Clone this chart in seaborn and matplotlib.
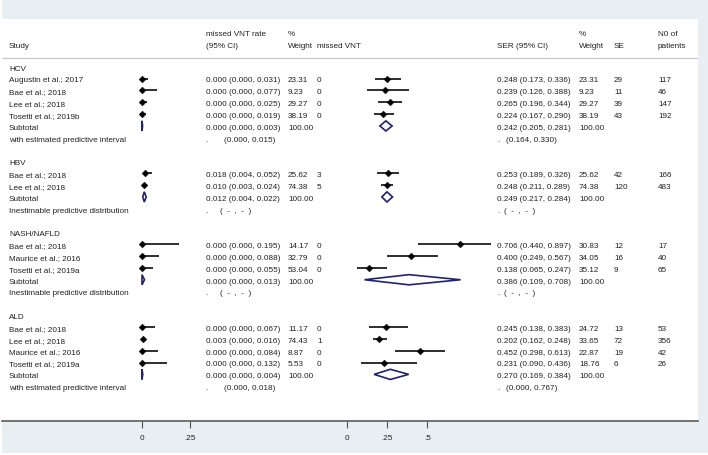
import numpy as np
import pandas as pd
import matplotlib
matplotlib.use("Agg")
import matplotlib.pyplot as plt
import seaborn as sns
from matplotlib.patches import Polygon, Rectangle

# ---------------- data ----------------
groups = ["HCV", "HBV", "NASH/NAFLD", "ALD"]
group_sizes = [4, 2, 3, 4]
pred_labels = ["with estimated predictive interval", "Inestimable predictive distribution",
               "Inestimable predictive distribution", "with estimated predictive interval"]

studies = ["Augustin et al.; 2017", "Bae et al.; 2018", "Lee et al.; 2018", "Tosetti et al.; 2019b",
           "Bae et al.; 2018", "Lee et al.; 2018",
           "Bae et al.; 2018", "Maurice et al.; 2016", "Tosetti et al.; 2019a",
           "Bae et al.; 2018", "Lee et al.; 2018", "Maurice et al.; 2016", "Tosetti et al.; 2019a"]

vnt_rate = [0.000, 0.000, 0.000, 0.000, 0.018, 0.010, 0.000, 0.000, 0.000, 0.000, 0.003, 0.000, 0.000]
vnt_lo = [0.000, 0.000, 0.000, 0.000, 0.004, 0.003, 0.000, 0.000, 0.000, 0.000, 0.000, 0.000, 0.000]
vnt_hi = [0.031, 0.077, 0.025, 0.019, 0.052, 0.024, 0.195, 0.088, 0.055, 0.067, 0.016, 0.084, 0.132]
vnt_weight = [23.31, 9.23, 29.27, 38.19, 25.62, 74.38, 14.17, 32.79, 53.04, 11.17, 74.43, 8.87, 5.53]
missed_vnt = [0, 0, 0, 0, 3, 5, 0, 0, 0, 0, 1, 0, 0]

ser = [0.248, 0.239, 0.265, 0.224, 0.253, 0.248, 0.706, 0.400, 0.138, 0.245, 0.202, 0.452, 0.231]
ser_lo = [0.173, 0.126, 0.196, 0.167, 0.189, 0.211, 0.440, 0.249, 0.065, 0.138, 0.162, 0.298, 0.090]
ser_hi = [0.336, 0.388, 0.344, 0.290, 0.326, 0.289, 0.897, 0.567, 0.247, 0.383, 0.248, 0.613, 0.436]
ser_weight = [23.31, 9.23, 29.27, 38.19, 25.62, 74.38, 30.83, 34.05, 35.12, 24.72, 33.65, 22.87, 18.76]
se_count = [29, 11, 39, 43, 42, 120, 12, 16, 9, 13, 72, 19, 6]
n_patients = [117, 46, 147, 192, 166, 483, 17, 40, 65, 53, 356, 42, 26]

sub_vnt = [0.000, 0.012, 0.000, 0.000]
sub_vnt_lo = [0.000, 0.004, 0.000, 0.000]
sub_vnt_hi = [0.003, 0.022, 0.013, 0.004]
sub_ser = [0.242, 0.249, 0.386, 0.270]
sub_ser_lo = [0.205, 0.217, 0.109, 0.169]
sub_ser_hi = [0.281, 0.284, 0.708, 0.384]
pred_vnt = [(0.000, 0.015), None, None, (0.000, 0.018)]
pred_ser = [(0.164, 0.330), None, None, (0.000, 0.767)]

left_ticks = [0, 0.25]
left_tick_labels = ["0", ".25"]
right_ticks = [0, 0.25, 0.5]
right_tick_labels = ["0", ".25", ".5"]

# ---------------- style ----------------
sns.set_style("white")
plt.rcParams["font.family"] = ["Liberation Sans", "DejaVu Sans"]
FS = 5.9
TXT = "#222222"
NAVY = "#22226e"
BG = "#e8eff2"
TOFF = 0.11  # text baseline correction (rows)

W, H = 708, 456
fig = plt.figure(figsize=(W / 100, H / 100), dpi=100)
fig.patch.set_facecolor("white")
fig.patches.append(Rectangle((2 / W, 2 / H), 1, 1, transform=fig.transFigure,
                             facecolor=BG, edgecolor="none", zorder=-10))

PX_L, PX_R, PY_T, PY_B = 2, 698, 20, 422
ROW0, ROWH = 67.8, 11.83


def r_of(py):
    return (py - ROW0) / ROWH


ylim = (r_of(PY_B), r_of(PY_T))

ax = fig.add_axes([PX_L / W, 1 - PY_B / H, (PX_R - PX_L) / W, (PY_B - PY_T) / H])
ax.set_facecolor("white")
ax.set_xlim(PX_L, PX_R)
ax.set_ylim(*ylim)
for s in ["top", "left", "right"]:
    ax.spines[s].set_visible(False)
ax.spines["bottom"].set_color("#5a5a5a")
ax.spines["bottom"].set_linewidth(1.2)
ax.set_xticks([])
ax.set_yticks([])


def put(x, y, t):
    ax.text(x, y + TOFF, t, fontsize=FS, color=TXT, va="center", ha="left")


# header
h1, h2 = r_of(33.3), r_of(45.0)
hdr = [("Study", 9, h2), ("missed VNT rate", 205.5, h1), ("(95% CI)", 205.5, h2),
       ("%", 288, h1), ("Weight", 288, h2), ("missed VNT", 317, h2),
       ("SER (95% CI)", 497, h2), ("%", 579, h1), ("Weight", 579, h2),
       ("SE", 614, h2), ("N0 of", 658, h1), ("patients", 658, h2)]
for t, x, y in hdr:
    put(x, y, t)
ax.axhline(r_of(59), color="#c8c8c8", lw=0.9)


def ci(e, lo, hi):
    return f"{e:.3f} ({lo:.3f}, {hi:.3f})"


study_rows = []
sub_rows = []
r = 0
k = 0
for gi, g in enumerate(groups):
    put(9, r, g)
    r += 1
    for _ in range(group_sizes[gi]):
        put(9, r, studies[k])
        put(205.5, r, ci(vnt_rate[k], vnt_lo[k], vnt_hi[k]))
        put(288, r, f"{vnt_weight[k]:.2f}")
        put(317, r, str(missed_vnt[k]))
        put(497, r, ci(ser[k], ser_lo[k], ser_hi[k]))
        put(579, r, f"{ser_weight[k]:.2f}")
        put(614, r, str(se_count[k]))
        put(658, r, str(n_patients[k]))
        study_rows.append(r)
        k += 1
        r += 1
    put(9, r, "Subtotal")
    put(205.5, r, ci(sub_vnt[gi], sub_vnt_lo[gi], sub_vnt_hi[gi]))
    put(288, r, "100.00")
    put(497, r, ci(sub_ser[gi], sub_ser_lo[gi], sub_ser_hi[gi]))
    put(579, r, "100.00")
    sub_rows.append(r)
    r += 1
    put(9, r, pred_labels[gi])
    put(205.5, r, ".")
    put(497, r, ".")
    if pred_vnt[gi] is not None:
        put(224, r, f"({pred_vnt[gi][0]:.3f}, {pred_vnt[gi][1]:.3f})")
    else:
        put(220, r, "(  -  ,  -  )")
    if pred_ser[gi] is not None:
        put(505.5, r, f"({pred_ser[gi][0]:.3f}, {pred_ser[gi][1]:.3f})")
    else:
        put(504, r, "(  -  ,  -  )")
    r += 2


def forest_axes(px0, px1, zero_px, scale):
    a = fig.add_axes([px0 / W, 1 - PY_B / H, (px1 - px0) / W, (PY_B - PY_T) / H])
    a.patch.set_alpha(0)
    return a, ((px0 - zero_px) / scale, (px1 - zero_px) / scale)


def draw_forest(a, xl, ticks, labels, est, lo, hi, s_est, s_lo, s_hi):
    df = pd.DataFrame({"est": est, "row": study_rows})
    a.hlines(study_rows, lo, hi, color="black", lw=1.15, zorder=2)
    sns.scatterplot(data=df, x="est", y="row", ax=a, marker="D", s=12, color="black",
                    edgecolor="black", linewidth=0.3, zorder=3, legend=False)
    dh = 0.43
    for rr, e, l, h in zip(sub_rows, s_est, s_lo, s_hi):
        a.add_patch(Polygon([(l, rr), (e, rr - dh), (h, rr), (e, rr + dh)], closed=True,
                            fill=False, edgecolor=NAVY, lw=1.2, joinstyle="miter", zorder=3))
    a.set_xlim(*xl)
    a.set_ylim(*ylim)
    for s in a.spines.values():
        s.set_visible(False)
    a.set_yticks([])
    a.set_xticks(ticks)
    a.set_xticklabels(labels)
    a.tick_params(axis="x", direction="out", length=5, width=0.8, color="#555555",
                  labelsize=FS, labelcolor=TXT, pad=4.5, bottom=True)
    a.set_xlabel("")
    a.set_ylabel("")


axl, xll = forest_axes(128, 205, 142, 192.0)
draw_forest(axl, xll, left_ticks, left_tick_labels, vnt_rate, vnt_lo, vnt_hi,
            sub_vnt, sub_vnt_lo, sub_vnt_hi)

axr, xlr = forest_axes(338, 495, 347, 160.5)
draw_forest(axr, xlr, right_ticks, right_tick_labels, ser, ser_lo, ser_hi,
            sub_ser, sub_ser_lo, sub_ser_hi)

fig.savefig("out.png", dpi=100, facecolor=fig.get_facecolor())
